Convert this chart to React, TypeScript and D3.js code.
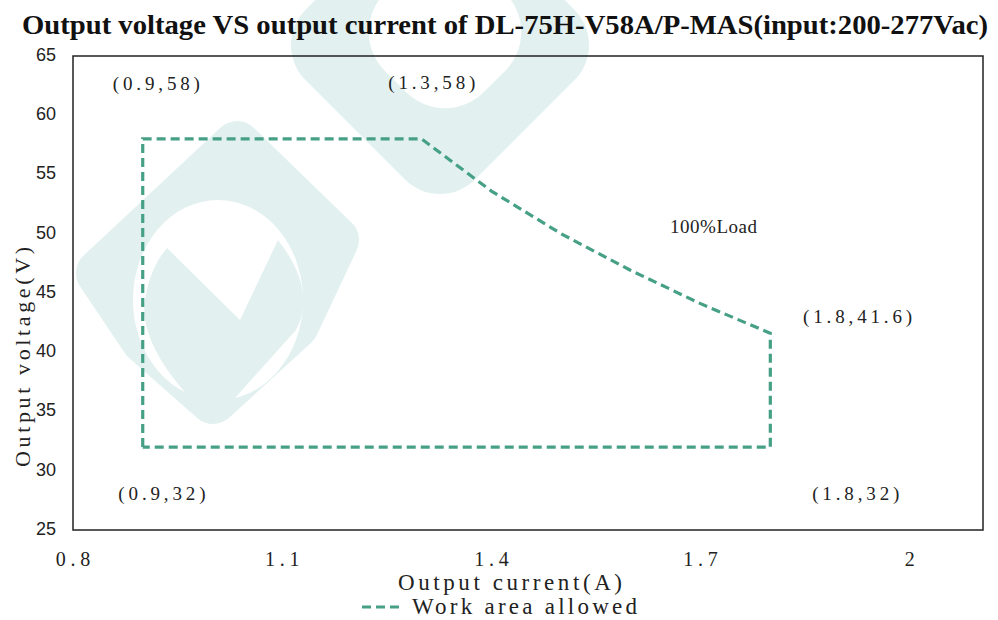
import React from 'react';
import * as d3 from 'd3';

// work area polygon (A, V)
const currentA = [0.9, 0.9, 1.3, 1.4, 1.5, 1.6, 1.7, 1.8, 1.8, 0.9];
const voltageV = [32, 58, 58, 53.6, 50, 46.9, 44.1, 41.6, 32, 32];

const xTicks = [0.8, 1.1, 1.4, 1.7, 2];
const yTicks = [25, 30, 35, 40, 45, 50, 55, 60, 65];

// corner notes, anchored in data units
const notes = ['(0.9,58)', '(1.3,58)', '100%Load', '(1.8,41.6)', '(0.9,32)', '(1.8,32)'];
const noteX = [0.857, 1.252, 1.656, 1.847, 0.865, 1.86];
const noteY = [62.1, 62.2, 50.1, 42.5, 27.5, 27.5];

const W = 998;
const H = 620;
const margin = { top: 56, right: 15, bottom: 90, left: 73 };

const lineColor = '#46a086';
const wm = '#e2f1f0';
const serif = '"Liberation Serif", "DejaVu Serif", serif';

const App: React.FC = () => {
  const x = d3.scaleLinear().domain([0.8, 2.105]).range([margin.left, W - margin.right]);
  const y = d3.scaleLinear().domain([25, 65]).range([H - margin.bottom, margin.top]);

  const pts = currentA.map((c, i) => [c, voltageV[i]] as [number, number]);
  const line = d3
    .line<[number, number]>()
    .x((d) => x(d[0]))
    .y((d) => y(d[1]));

  const x0 = x.range()[0];
  const x1 = x.range()[1];
  const y0 = y.range()[0];
  const y1 = y.range()[1];

  return (
    <svg width={W} height={H} style={{ position: 'absolute', left: 0, top: 0, background: '#fff' }}>
      {/* watermark */}
      <g>
        <polygon
          points="100,273 237,145 335,240 295,325 213,400 145,340"
          fill={wm}
          stroke={wm}
          strokeWidth={48}
          strokeLinejoin="round"
        />
        <ellipse cx={218} cy={300} rx={85} ry={100} fill="#fff" />
        <path
          d="M167,248 L240,320 L278,240 C300,268 312,300 296,330 L226,408 Q213,420 200,408 C162,370 140,332 145,300 C148,280 155,262 167,248 Z"
          fill={wm}
        />
        <rect
          x={-120}
          y={-120}
          width={240}
          height={240}
          rx={50}
          fill={wm}
          transform="translate(440,45) rotate(45)"
        />
        <rect
          x={-70}
          y={-70}
          width={140}
          height={140}
          rx={55}
          fill="#fff"
          transform="translate(445,32) rotate(45)"
        />
      </g>

      {/* title */}
      <text
        x={22}
        y={34}
        fontFamily={serif}
        fontWeight="bold"
        fontSize={27}
        textLength={966}
        lengthAdjust="spacingAndGlyphs"
        fill="#111"
      >
        Output voltage VS output current of DL-75H-V58A/P-MAS(input:200-277Vac)
      </text>

      {/* plot frame */}
      <rect x={x0} y={y1} width={x1 - x0} height={y0 - y1} fill="none" stroke="#222" strokeWidth={1.5} />

      {/* y ticks */}
      {yTicks.map((t) => (
        <text
          key={t}
          x={56}
          y={y(t)}
          textAnchor="end"
          dominantBaseline="middle"
          fontFamily='"Liberation Sans Narrow", "Liberation Sans", Arial, sans-serif'
          fontSize={18}
          fill="#222"
        >
          {t}
        </text>
      ))}

      {/* x ticks */}
      {xTicks.map((t) => {
        const s = String(t);
        return (
          <text
            key={t}
            x={x(t)}
            y={566}
            textAnchor="middle"
            fontFamily={serif}
            fontSize={20}
            textLength={s.length * 11.5}
            lengthAdjust="spacing"
            fill="#222"
          >
            {s}
          </text>
        );
      })}

      {/* axis titles */}
      <text
        x={510}
        y={590}
        textAnchor="middle"
        fontFamily={serif}
        fontSize={23}
        textLength={224}
        lengthAdjust="spacing"
        fill="#222"
      >
        Output current(A)
      </text>
      <text
        transform="translate(30,357) rotate(-90)"
        textAnchor="middle"
        fontFamily={serif}
        fontSize={22}
        textLength={220}
        lengthAdjust="spacing"
        fill="#222"
      >
        Output voltage(V)
      </text>

      {/* work area */}
      <path
        d={line(pts) || ''}
        fill="none"
        stroke={lineColor}
        strokeWidth={3.2}
        strokeDasharray="9,5"
      />

      {/* notes */}
      {notes.map((n, i) => (
        <text
          key={n}
          x={x(noteX[i])}
          y={y(noteY[i])}
          fontFamily={serif}
          fontSize={19}
          textLength={n.length * 10.9}
          lengthAdjust="spacing"
          fill="#222"
        >
          {n}
        </text>
      ))}

      {/* legend */}
      <line x1={362} x2={404} y1={607} y2={607} stroke={lineColor} strokeWidth={3.2} strokeDasharray="9,5" />
      <text
        x={412}
        y={614}
        fontFamily={serif}
        fontSize={23}
        textLength={225}
        lengthAdjust="spacing"
        fill="#222"
      >
        Work area allowed
      </text>
    </svg>
  );
};

export default App;
